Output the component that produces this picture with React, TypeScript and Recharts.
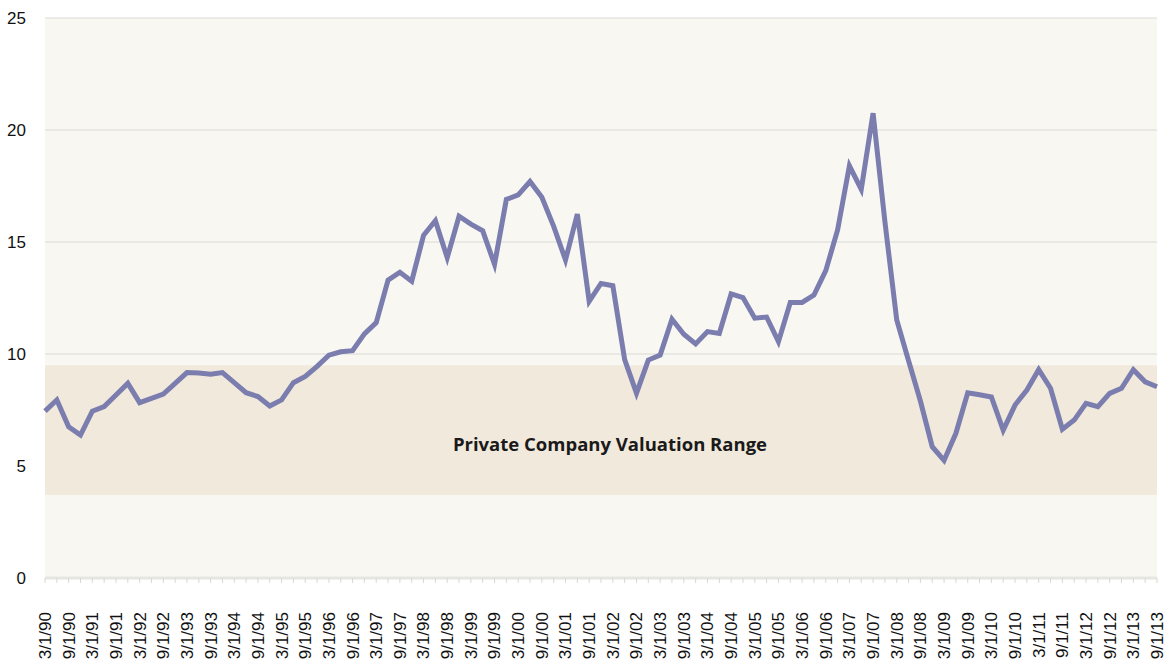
import React from 'react';
import { LineChart, Line, XAxis, YAxis, CartesianGrid, ReferenceArea } from 'recharts';

// quarterly dates, 3/1/90 .. 9/1/13
const quarters: string[] = [
  '3/1/90', '6/1/90', '9/1/90', '12/1/90',
  '3/1/91', '6/1/91', '9/1/91', '12/1/91',
  '3/1/92', '6/1/92', '9/1/92', '12/1/92',
  '3/1/93', '6/1/93', '9/1/93', '12/1/93',
  '3/1/94', '6/1/94', '9/1/94', '12/1/94',
  '3/1/95', '6/1/95', '9/1/95', '12/1/95',
  '3/1/96', '6/1/96', '9/1/96', '12/1/96',
  '3/1/97', '6/1/97', '9/1/97', '12/1/97',
  '3/1/98', '6/1/98', '9/1/98', '12/1/98',
  '3/1/99', '6/1/99', '9/1/99', '12/1/99',
  '3/1/00', '6/1/00', '9/1/00', '12/1/00',
  '3/1/01', '6/1/01', '9/1/01', '12/1/01',
  '3/1/02', '6/1/02', '9/1/02', '12/1/02',
  '3/1/03', '6/1/03', '9/1/03', '12/1/03',
  '3/1/04', '6/1/04', '9/1/04', '12/1/04',
  '3/1/05', '6/1/05', '9/1/05', '12/1/05',
  '3/1/06', '6/1/06', '9/1/06', '12/1/06',
  '3/1/07', '6/1/07', '9/1/07', '12/1/07',
  '3/1/08', '6/1/08', '9/1/08', '12/1/08',
  '3/1/09', '6/1/09', '9/1/09', '12/1/09',
  '3/1/10', '6/1/10', '9/1/10', '12/1/10',
  '3/1/11', '6/1/11', '9/1/11', '12/1/11',
  '3/1/12', '6/1/12', '9/1/12', '12/1/12',
  '3/1/13', '6/1/13', '9/1/13',
];

const multiples: number[] = [
  7.45, 7.95, 6.75, 6.38,
  7.45, 7.65, 8.17, 8.69,
  7.83, 8.02, 8.21, 8.69,
  9.17, 9.15, 9.1, 9.17,
  8.72, 8.27, 8.1, 7.68,
  7.95, 8.72, 9.0, 9.45,
  9.95, 10.1, 10.15, 10.9,
  11.4, 13.3, 13.65, 13.25,
  15.3, 15.95, 14.3, 16.15,
  15.8, 15.5, 14.0, 16.9,
  17.1, 17.7, 17.0, 15.7,
  14.2, 16.25, 12.35, 13.15,
  13.05, 9.75, 8.25, 9.73,
  9.95, 11.55, 10.88, 10.45,
  11.0, 10.92, 12.68, 12.52,
  11.6, 11.65, 10.55, 12.3,
  12.3, 12.63, 13.72, 15.54,
  18.4, 17.35, 20.75, 15.9,
  11.52, 9.7, 7.9, 5.86,
  5.25, 6.46, 8.27, 8.18,
  8.08, 6.6, 7.72, 8.39,
  9.3, 8.47, 6.64, 7.05,
  7.8, 7.65, 8.24, 8.47,
  9.3, 8.76, 8.54,
];

const yTicks = [0, 5, 10, 15, 20, 25];
const rangeLow = 3.7;
const rangeHigh = 9.5;
const rangeLabel = 'Private Company Valuation Range';

const data = quarters.map((q, i) => ({ date: q, value: multiples[i] }));

const FONT = '"Liberation Sans", Arial, sans-serif';

// only March and September get a label, every quarter keeps its tick mark
const DateTick = (props: any) => {
  const { x, y, payload } = props;
  const v: string = payload.value;
  if (!(v.startsWith('3/') || v.startsWith('9/'))) return <g />;
  return (
    <text
      x={x}
      y={y}
      transform={`rotate(-90, ${x}, ${y})`}
      textAnchor="end"
      dy="0.35em"
      fontSize={17}
      fontFamily={FONT}
      fill="#111"
    >
      {v}
    </text>
  );
};

const App: React.FC = () => {
  return (
    <div style={{ position: 'absolute', left: 0, top: 0, background: '#fff' }}>
      <LineChart
        width={1167}
        height={664}
        data={data}
        margin={{ top: 18, right: 10, left: 0, bottom: 0 }}
      >
        <CartesianGrid vertical={false} stroke="#dadad6" fill="#f8f7f2" />
        <ReferenceArea
          y1={rangeLow}
          y2={rangeHigh}
          fill="#f1e9dc"
          fillOpacity={1}
          stroke="none"
          label={{
            value: rangeLabel,
            position: 'center',
            dx: 9,
            dy: 14,
            fill: '#1a1a1a',
            fontSize: 18.5,
            fontWeight: 700,
            fontFamily: '"Open Sans", sans-serif',
          }}
        />
        <XAxis
          dataKey="date"
          interval={0}
          height={86}
          tick={<DateTick />}
          tickSize={5}
          tickMargin={29}
          tickLine={{ stroke: '#d8d8d4' }}
          axisLine={{ stroke: '#e6e6e1', strokeWidth: 3 }}
        />
        <YAxis
          domain={[0, 25]}
          ticks={yTicks}
          width={45}
          axisLine={false}
          tickLine={false}
          tickMargin={13}
          tick={{ fontSize: 17, fill: '#111', fontFamily: FONT }}
        />
        <Line
          type="linear"
          dataKey="value"
          stroke="#7a7dae"
          strokeWidth={5}
          dot={false}
          activeDot={false}
          isAnimationActive={false}
        />
      </LineChart>
    </div>
  );
};

export default App;
